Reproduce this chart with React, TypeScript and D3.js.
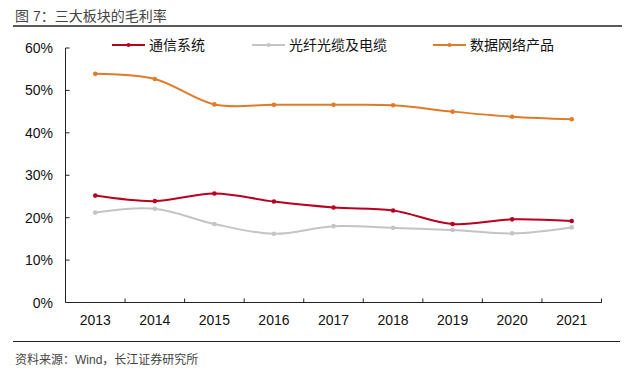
import React from "react";
import * as d3 from "d3";

const years = ["2013", "2014", "2015", "2016", "2017", "2018", "2019", "2020", "2021"];
const commSystems = [25.2, 23.9, 25.7, 23.8, 22.4, 21.7, 18.5, 19.6, 19.2];
const fiberCable = [21.2, 22.1, 18.5, 16.2, 18.0, 17.6, 17.1, 16.3, 17.7];
const dataNetwork = [53.9, 52.7, 46.7, 46.6, 46.6, 46.5, 45.0, 43.8, 43.2];
const yTicks = [0, 10, 20, 30, 40, 50, 60];
const seriesNames = ["通信系统", "光纤光缆及电缆", "数据网络产品"];
const seriesColors = ["#B8001F", "#C4C4C4", "#E07B2A"];

const W = 640;
const H = 377;
const font = "Arial, 'Liberation Sans', 'Noto Sans CJK SC', sans-serif";

export default function App() {
  const x = d3.scaleBand<string>().domain(years).range([65.5, 601.5]);
  const y = d3.scaleLinear().domain([0, 60]).range([302.5, 48]);
  const line = d3
    .line<number>()
    .x((_, i) => (x(years[i]) as number) + x.bandwidth() / 2)
    .y((d) => y(d))
    .curve(d3.curveCatmullRom.alpha(0.5));

  const series = [commSystems, fiberCable, dataNetwork];
  const legendX = [112, 252, 433];

  return (
    <svg
      width={W}
      height={H}
      style={{ position: "absolute", left: 0, top: 0, background: "#fff" }}
      fontFamily={font}
    >
      <rect x={0} y={0} width={W} height={H} fill="#fff" />
      {/* title */}
      <text x={15} y={21} fontSize={14} fill="#444">
        图 7：三大板块的毛利率
      </text>
      <line x1={13} x2={622} y1={26} y2={26} stroke="#222" strokeWidth={1.5} />

      {/* legend */}
      {seriesNames.map((name, i) => (
        <g key={name}>
          <line
            x1={legendX[i]}
            x2={legendX[i] + 33}
            y1={45}
            y2={45}
            stroke={seriesColors[i]}
            strokeWidth={2}
          />
          <circle cx={legendX[i] + 16.5} cy={45} r={2} fill={seriesColors[i]} />
          <text x={legendX[i] + 37} y={50} fontSize={14} fill="#111">
            {name}
          </text>
        </g>
      ))}

      {/* y axis */}
      <line x1={65.5} x2={65.5} y1={y(60)} y2={y(0)} stroke="#222" strokeWidth={1} />
      {yTicks.map((t) => (
        <g key={t}>
          <line x1={65.5} x2={69.5} y1={y(t)} y2={y(t)} stroke="#222" />
          <text x={53} y={y(t) + 5} fontSize={14} textAnchor="end" fill="#111">
            {t}%
          </text>
        </g>
      ))}

      {/* x axis */}
      <line x1={65.5} x2={601.5} y1={y(0)} y2={y(0)} stroke="#222" />
      {years.map((yr, i) => (
        <g key={yr}>
          <line
            x1={(x(yr) as number) + x.bandwidth()}
            x2={(x(yr) as number) + x.bandwidth()}
            y1={y(0)}
            y2={y(0) - 4}
            stroke="#222"
          />
          <text
            x={(x(yr) as number) + x.bandwidth() / 2}
            y={325}
            fontSize={14}
            textAnchor="middle"
            fill="#111"
          >
            {yr}
          </text>
        </g>
      ))}

      {/* series */}
      {series.map((vals, si) => (
        <g key={si}>
          <path
            d={line(vals) as string}
            fill="none"
            stroke={seriesColors[si]}
            strokeWidth={2}
          />
          {vals.map((v, i) => (
            <circle
              key={i}
              cx={(x(years[i]) as number) + x.bandwidth() / 2}
              cy={y(v)}
              r={2.3}
              fill={seriesColors[si]}
            />
          ))}
        </g>
      ))}

      {/* footer */}
      <line x1={13} x2={620} y1={341.5} y2={341.5} stroke="#222" strokeWidth={1.2} />
      <text x={15} y={364} fontSize={12} fill="#444">
        资料来源：Wind，长江证券研究所
      </text>
    </svg>
  );
}
